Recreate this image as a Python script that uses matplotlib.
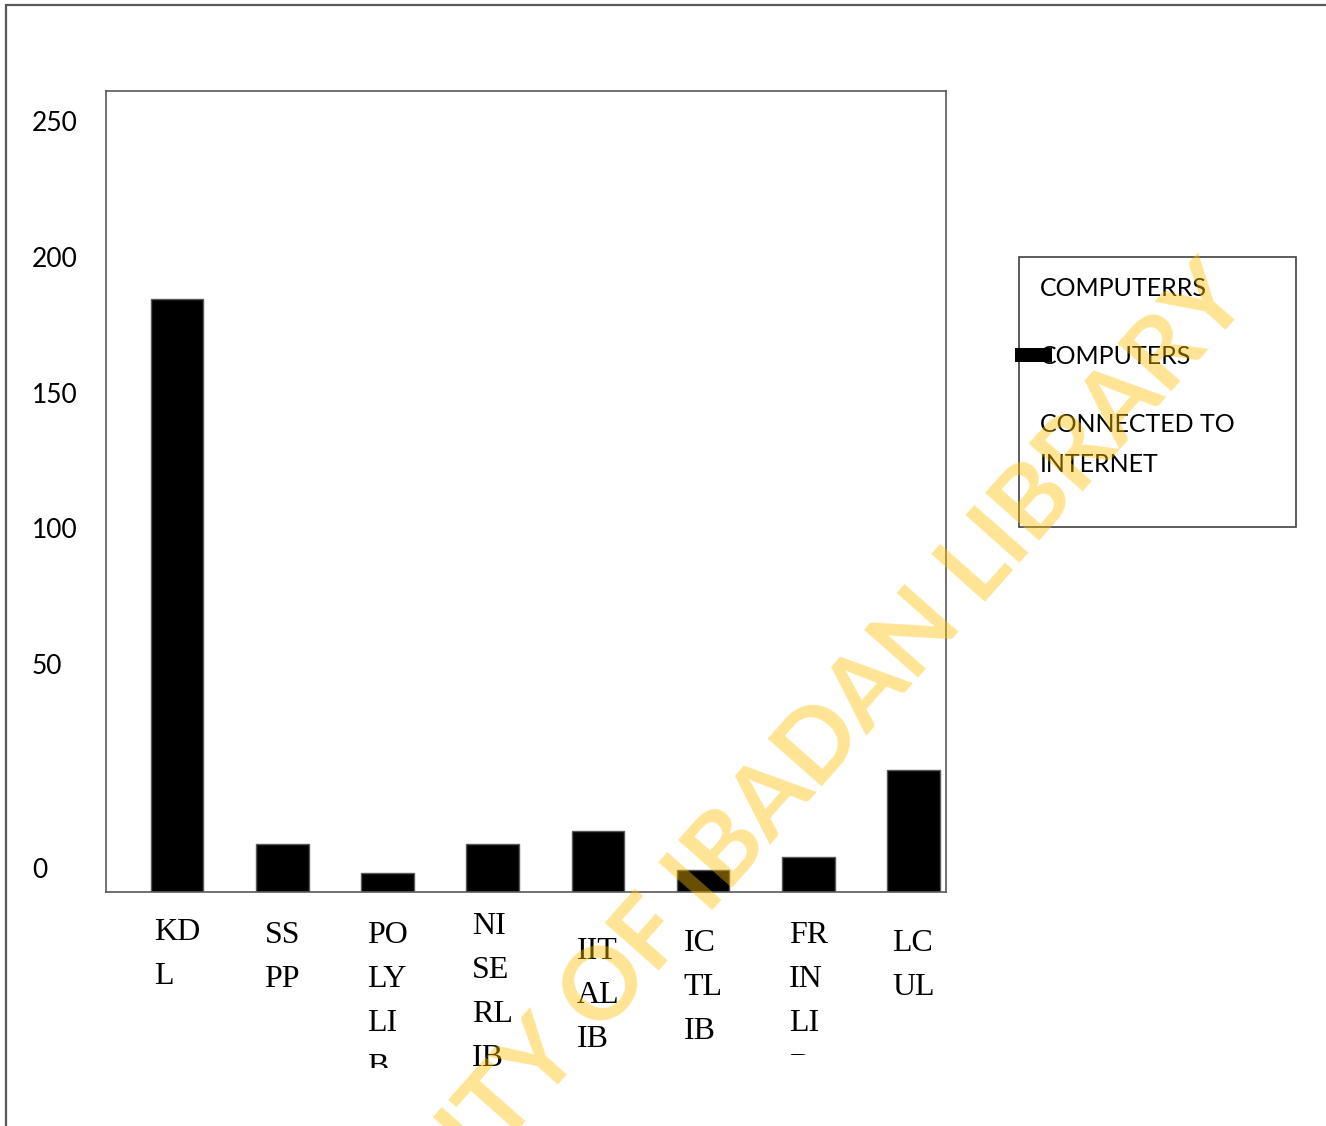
import matplotlib
matplotlib.use("Agg")
import matplotlib.pyplot as plt
from matplotlib.patches import Rectangle
from matplotlib.transforms import Bbox, offset_copy

# data
libraries = ["KD\nL", "SS\nPP", "PO\nLY\nLI\nB", "NI\nSE\nRL\nIB",
             "IIT\nAL\nIB", "IC\nTL\nIB", "FR\nIN\nLI\nB", "LC\nUL"]
computers_on_internet = [185, 15, 6, 15, 19, 7, 11, 38]
y_tick_labels = ["0", "50", "100", "150", "200", "250"]
# where the (badly placed) y labels sit, in axis units
y_tick_spots = [7.5, 71.2, 113.6, 155.7, 198.2, 240.6]
legend_lines = ["COMPUTERRS", "COMPUTERS", "CONNECTED TO", "INTERNET"]
watermark = "UNIVERSITY OF IBADAN LIBRARY"

W, H = 1326, 1126
grey = "#595959"


def fx(x):
    return x / W


def fy(y):
    return 1 - y / H


fig = plt.figure(figsize=(W / 100, H / 100), dpi=100)

# outer frame (only top and left edges show)
fig.add_artist(Rectangle((fx(6), -0.05), 1.1, fy(5) + 0.05, transform=fig.transFigure,
                         fill=False, edgecolor=grey, linewidth=1.6))

ax = fig.add_axes([fx(106), fy(892), fx(946) - fx(106), fy(91) - fy(892)])
x = list(range(len(libraries)))
ax.bar(x, computers_on_internet, width=0.5, color="black", edgecolor=grey, linewidth=1)
ax.set_xlim(-0.676, 7.309)
ax.set_ylim(0, 250)
for s in ax.spines.values():
    s.set_color(grey)
    s.set_linewidth(1.2)

ax.set_xticks([])
ax.set_yticks(y_tick_spots, y_tick_labels, fontfamily="Lato", fontsize=19)
ax.tick_params(axis="y", length=0, pad=(106 - 32) * 0.72)
for lab in ax.get_yticklabels():
    lab.set_horizontalalignment("left")

# category labels under the bars, wrapped (and cut) like the original
label_tops = [918, 921, 921, 912, 937, 929, 921, 929]
clip_bottom = {2: 1068, 6: 1055}
for i, name in enumerate(libraries):
    tf = offset_copy(ax.get_xaxis_transform(), fig=fig, y=-(label_tops[i] - 892), units="dots")
    t = ax.text(i, 0, name, transform=tf, ha="center", va="top",
                multialignment="left", fontfamily="Liberation Serif", fontsize=23,
                linespacing=1.68, clip_on=False)
    if i in clip_bottom:
        t.set_clip_box(Bbox.from_extents(0, H - clip_bottom[i], W, H))
        t.set_clip_on(True)

# hand-made legend like the original
fig.add_artist(Rectangle((fx(1019), fy(527)), fx(1296) - fx(1019), fy(257) - fy(527),
                         transform=fig.transFigure, fill=False, edgecolor="#404040",
                         linewidth=1.2))
fig.add_artist(Rectangle((fx(1015), fy(362)), fx(1052) - fx(1015), fy(348) - fy(362),
                         transform=fig.transFigure, facecolor="black", edgecolor="none"))
for line, base in zip(legend_lines, [296, 364, 432, 472]):
    fig.text(fx(1040), fy(base), line, ha="left", va="baseline",
             fontfamily="Lato", fontsize=18)

# library watermark
fig.text(fx(1252), fy(300), watermark, ha="right", va="baseline",
         rotation=48.5, rotation_mode="anchor", fontfamily="Lato", fontsize=72,
         fontweight="bold", color="#FFC000", alpha=0.42, zorder=10)

fig.savefig("out.png", dpi=100)
